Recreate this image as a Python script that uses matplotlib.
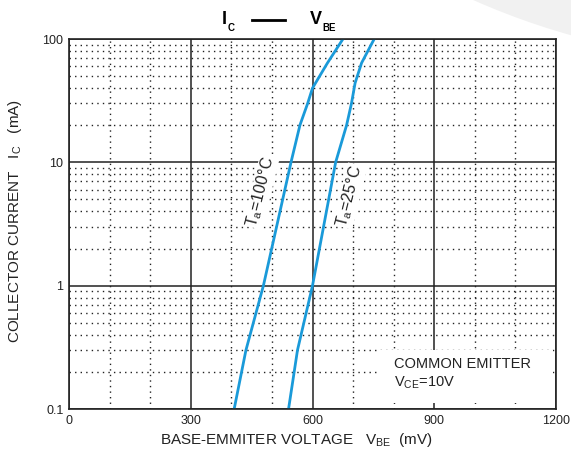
import matplotlib
matplotlib.use("Agg")
import matplotlib.pyplot as plt
from matplotlib.patches import Ellipse, Rectangle
from matplotlib.lines import Line2D
from matplotlib.ticker import FixedLocator, NullFormatter

plt.rcParams['font.family'] = ['Liberation Sans', 'DejaVu Sans']
plt.rcParams['mathtext.fontset'] = 'custom'
plt.rcParams['mathtext.rm'] = 'Liberation Sans'
plt.rcParams['mathtext.bf'] = 'Liberation Sans:bold'

# Ic - Vbe curves (mV, mA)
vbe_100 = [407, 436, 479, 547, 569, 588, 600, 637, 675]
ic_100 = [0.1, 0.3, 1.0, 10, 20, 30, 40, 64, 100]
vbe_25 = [541, 563, 600, 657, 684, 696, 705, 721, 752]
ic_25 = [0.1, 0.3, 1.0, 10, 20, 30, 44, 64, 100]

x_major = [0, 300, 600, 900, 1200]
x_minor = [100, 200, 400, 500, 700, 800, 1000, 1100]
y_major = [0.1, 1, 10, 100]
y_labels = ['0.1', '1', '10', '100']

W, H = 571, 455
fig = plt.figure(figsize=(W / 100, H / 100), dpi=100)
fig.patch.set_facecolor('white')


def px(x, y):
    return x / W, 1 - y / H


# pale rounded shape in the upper right corner
fig.patches.append(Ellipse((765.6 / W, 1 + 659 / H), 2 * 721 / W, 2 * 721 / H,
                           transform=fig.transFigure, facecolor='#f1f1f1',
                           edgecolor='none', zorder=0))

ax = fig.add_axes([69 / W, 1 - 409 / H, (556 - 69) / W, (409 - 39) / H])
ax.set_facecolor('none')
ax.set_yscale('log')
ax.set_xlim(0, 1200)
ax.set_ylim(0.1, 100)

ax.xaxis.set_major_locator(FixedLocator(x_major))
ax.xaxis.set_minor_locator(FixedLocator(x_minor))
ax.set_xticklabels([str(v) for v in x_major])
ax.yaxis.set_major_locator(FixedLocator(y_major))
ax.set_yticklabels(y_labels)
ax.yaxis.set_minor_formatter(NullFormatter())
ax.tick_params(which='both', length=0, labelsize=9, pad=4, labelcolor='#222222')

ax.grid(True, which='major', color='#222222', linestyle='-', linewidth=1.1)
ax.grid(True, which='minor', color='#222222', linestyle=(0, (1, 3)), linewidth=1.0)
for s in ax.spines.values():
    s.set_linewidth(1.2)
    s.set_color('#222222')
    s.set_zorder(5)

blue = '#1a9ad9'
ax.plot(vbe_100, ic_100, color=blue, linewidth=2.0, zorder=3)
ax.plot(vbe_25, ic_25, color=blue, linewidth=2.0, zorder=3)

label_box = dict(facecolor='white', edgecolor='none', pad=0.5)
ax.text(*px(261, 192), r'T$_\mathregular{a}$=100°C', transform=fig.transFigure,
        fontsize=11.5, rotation=76, ha='center', va='center', color='#222222',
        bbox=label_box, zorder=2)
ax.text(*px(350, 196), r'T$_\mathregular{a}$=25°C', transform=fig.transFigure,
        fontsize=11.5, rotation=76, ha='center', va='center', color='#222222',
        bbox=label_box, zorder=2)

# white box behind the corner note
ax.add_patch(Rectangle(px(378, 403), 175 / W, 53 / H, transform=fig.transFigure,
                       facecolor='white', edgecolor='none', zorder=4))
ax.text(*px(394, 364), 'COMMON EMITTER', transform=fig.transFigure, fontsize=10.5,
        ha='left', va='center', color='#222222', zorder=6)
ax.text(*px(394, 383), r'V$_\mathregular{CE}$=10V', transform=fig.transFigure,
        fontsize=10.5, ha='left', va='center', color='#222222', zorder=6)

# title
fig.text(*px(224, 20), 'I', fontsize=13, fontweight='bold', ha='center', va='center')
fig.text(*px(231, 28), 'C', fontsize=7, fontweight='bold', ha='center', va='center')
fig.add_artist(Line2D([252 / W, 285 / W], [1 - 20 / H, 1 - 20 / H], color='black',
                      linewidth=2, transform=fig.transFigure))
fig.text(*px(316, 20), 'V', fontsize=13, fontweight='bold', ha='center', va='center')
fig.text(*px(329, 28), 'BE', fontsize=7, fontweight='bold', ha='center', va='center')

# axis labels
fig.text(*px(296, 440), r'BASE-EMMITER VOLTAGE   V$_\mathregular{BE}$  (mV)',
         fontsize=11, ha='center', va='center', color='#222222')
fig.text(*px(15, 221), r'COLLECTOR CURRENT   I$_\mathregular{C}$   (mA)',
         fontsize=11, ha='center', va='center', rotation=90, color='#222222')

fig.savefig('out.png', dpi=100)
